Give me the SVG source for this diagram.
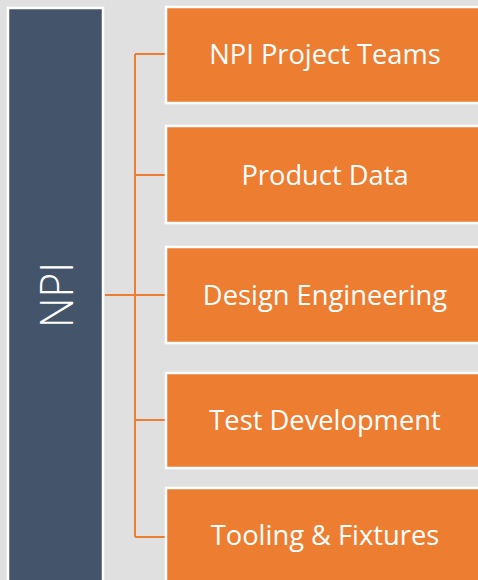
<svg xmlns="http://www.w3.org/2000/svg" width="478" height="580" viewBox="0 0 478 580">
<style>
.box{fill:#ED7D31;stroke:#FFFFFF;stroke-width:2.5}
.lbl{font-family:"Open Sans","Liberation Sans",sans-serif;font-size:27.3px;fill:#FFFFFF;text-anchor:middle;dominant-baseline:central}
.con{stroke:#ED7D31;stroke-width:2;fill:none}
</style>
<rect width="478" height="580" fill="#E0E0E0"/>
<g id="npi">
<rect x="8" y="8" width="95" height="590" fill="#44546A" stroke="#FFFFFF" stroke-width="2.5"/>
<text transform="translate(55,295) rotate(-90)" font-family="'Open Sans','Liberation Sans',sans-serif" font-weight="300" font-size="46" fill="#FFFFFF" text-anchor="middle" dominant-baseline="central" textLength="66" lengthAdjust="spacingAndGlyphs">NPI</text>
</g>
<g id="connectors">
<path class="con" d="M105,295 H135 M135,54 V537 M135,54 H166 M135,175 H166 M135,420 H166 M135,537 H166 M135,295 H166"/>
</g>
<g id="n1"><rect class="box" x="166" y="7" width="330" height="96"/><text class="lbl" x="325" y="53">NPI Project Teams</text></g>
<g id="n2"><rect class="box" x="166" y="126" width="330" height="97"/><text class="lbl" x="325" y="174">Product Data</text></g>
<g id="n3"><rect class="box" x="166" y="247" width="330" height="96"/><text class="lbl" x="325" y="294">Design Engineering</text></g>
<g id="n4"><rect class="box" x="166" y="373" width="330" height="95"/><text class="lbl" x="325" y="419">Test Development</text></g>
<g id="n5"><rect class="box" x="166" y="488" width="330" height="120"/><text class="lbl" x="325" y="534">Tooling &amp; Fixtures</text></g>
</svg>
